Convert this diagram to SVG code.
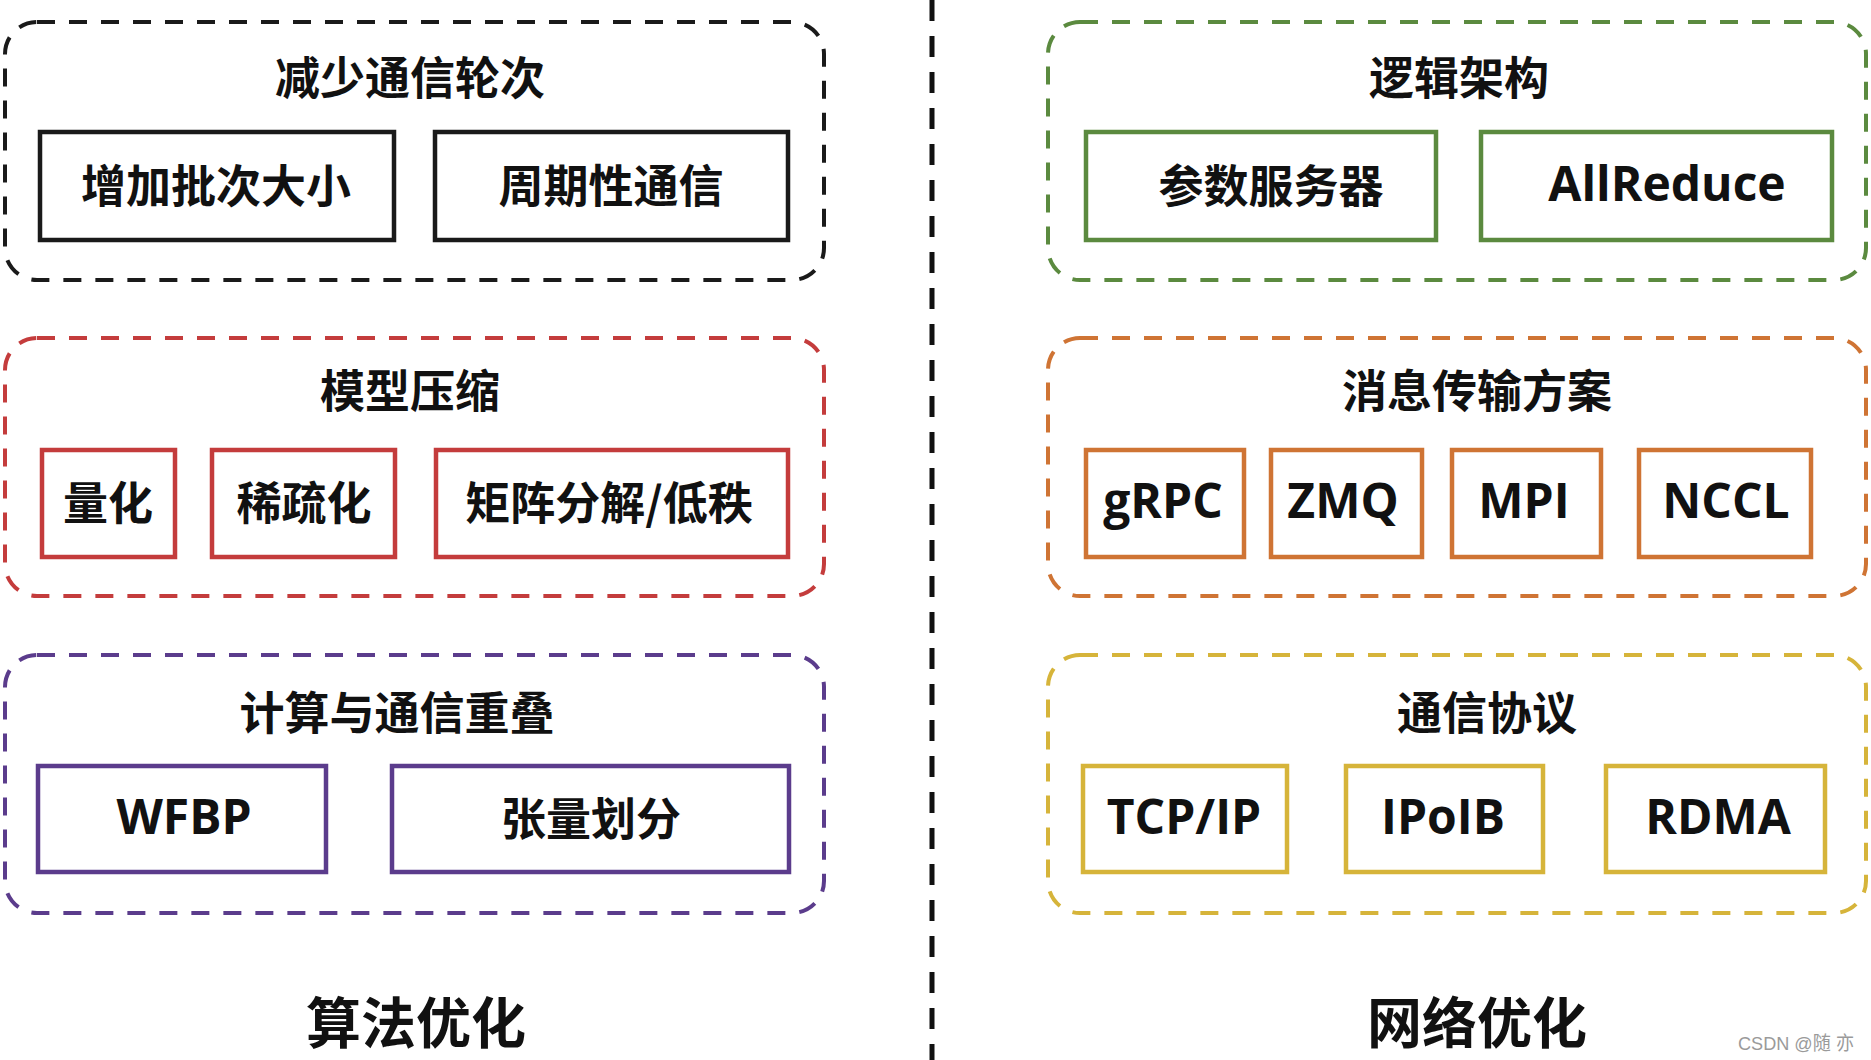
<svg xmlns="http://www.w3.org/2000/svg" width="1871" height="1060" viewBox="0 0 1871 1060">
<style>
.grp{fill:none;stroke-width:4;stroke-dasharray:18 14;}
.box{fill:#fff;stroke-width:4.5;}
.t{font-family:"Open Sans","Noto Sans CJK SC",sans-serif;font-weight:700;fill:#111;text-anchor:middle;}
.cj{font-family:"Noto Sans CJK SC",sans-serif;font-size:45px;}
.lt{font-size:48px;}
.big{font-family:"Noto Sans CJK SC",sans-serif;font-size:55px;}
.k{stroke:#1a1a1a;} .r{stroke:#c43c3c;} .p{stroke:#5b3c8c;} .g{stroke:#5b8a3f;} .o{stroke:#cf7434;} .y{stroke:#d6b43a;}
</style>
<rect width="1871" height="1060" fill="#fff"/>
<g id="connectors">
<line x1="932" y1="0" x2="932" y2="1060" stroke="#111" stroke-width="5" stroke-dasharray="21 15"/>
</g>
<g id="group-reduce-rounds">
<rect class="grp k" x="5" y="22" width="819" height="258" rx="32"/>
<text class="t cj" x="410" y="95">减少通信轮次</text>
</g>
<g id="node-batch"><rect class="box k" x="40" y="132" width="354" height="108"/><text class="t cj" x="216" y="203">增加批次大小</text></g>
<g id="node-periodic"><rect class="box k" x="435" y="132" width="353" height="108"/><text class="t cj" x="611" y="203">周期性通信</text></g>
<g id="group-compress">
<rect class="grp r" x="5" y="338" width="819" height="258" rx="32"/>
<text class="t cj" x="410" y="408">模型压缩</text>
</g>
<g id="node-quant"><rect class="box r" x="42" y="450" width="133" height="107"/><text class="t cj" x="108" y="520">量化</text></g>
<g id="node-sparse"><rect class="box r" x="212" y="450" width="183" height="107"/><text class="t cj" x="304" y="520">稀疏化</text></g>
<g id="node-lowrank"><rect class="box r" x="436" y="450" width="352" height="107"/><text class="t cj" x="609" y="520">矩阵分解/低秩</text></g>
<g id="group-overlap">
<rect class="grp p" x="5" y="655" width="819" height="258" rx="32"/>
<text class="t cj" x="397" y="730">计算与通信重叠</text>
</g>
<g id="node-wfbp"><rect class="box p" x="38" y="766" width="288" height="106"/><text class="t lt" x="184" y="834">WFBP</text></g>
<g id="node-tensor"><rect class="box p" x="392" y="766" width="397" height="106"/><text class="t cj" x="591" y="836">张量划分</text></g>
<g id="label-algo"><text class="t big" x="416" y="1043">算法优化</text></g>
<g id="group-arch">
<rect class="grp g" x="1048" y="22" width="818" height="258" rx="32"/>
<text class="t cj" x="1459" y="95">逻辑架构</text>
</g>
<g id="node-ps"><rect class="box g" x="1086" y="132" width="350" height="108"/><text class="t cj" x="1271" y="203">参数服务器</text></g>
<g id="node-allreduce"><rect class="box g" x="1481" y="132" width="351" height="108"/><text class="t lt" x="1667" y="201">AllReduce</text></g>
<g id="group-msg">
<rect class="grp o" x="1048" y="338" width="818" height="258" rx="32"/>
<text class="t cj" x="1477" y="408">消息传输方案</text>
</g>
<g id="node-grpc"><rect class="box o" x="1086" y="450" width="158" height="107"/><text class="t lt" x="1163" y="518">gRPC</text></g>
<g id="node-zmq"><rect class="box o" x="1271" y="450" width="151" height="107"/><text class="t lt" x="1343" y="518">ZMQ</text></g>
<g id="node-mpi"><rect class="box o" x="1452" y="450" width="149" height="107"/><text class="t lt" x="1524" y="518">MPI</text></g>
<g id="node-nccl"><rect class="box o" x="1639" y="450" width="172" height="107"/><text class="t lt" x="1726" y="518">NCCL</text></g>
<g id="group-proto">
<rect class="grp y" x="1048" y="655" width="818" height="258" rx="32"/>
<text class="t cj" x="1487" y="730">通信协议</text>
</g>
<g id="node-tcp"><rect class="box y" x="1083" y="766" width="204" height="106"/><text class="t lt" x="1184" y="834">TCP/IP</text></g>
<g id="node-ipoib"><rect class="box y" x="1346" y="766" width="197" height="106"/><text class="t lt" x="1443" y="834">IPoIB</text></g>
<g id="node-rdma"><rect class="box y" x="1606" y="766" width="219" height="106"/><text class="t lt" x="1718" y="834">RDMA</text></g>
<g id="label-net"><text class="t big" x="1477" y="1043">网络优化</text></g>
<text x="1738" y="1050" font-family="'Liberation Sans','Noto Sans CJK SC',sans-serif" font-size="19" fill="#9a9a9a" textLength="116" lengthAdjust="spacingAndGlyphs">CSDN @随 亦</text>
</svg>
